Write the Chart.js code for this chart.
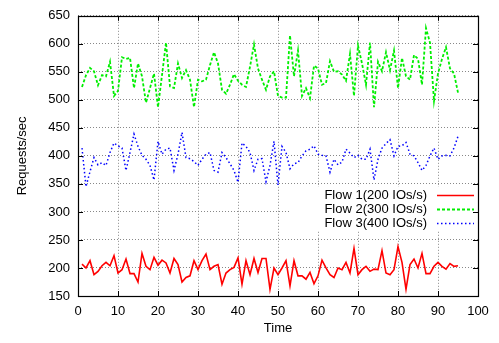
<!DOCTYPE html>
<html lang="en">
<head>
  <meta charset="UTF-8">
  <title>Requests/sec per flow</title>
  <style>
    body {
      margin: 0;
      background: #fff;
    }
    #wrap {
      width: 499px;
      height: 343px;
    }
  </style>
  <script src="https://cdn.jsdelivr.net/npm/chart.js"></script>
</head>
<body>
  <div id="wrap">
    <canvas id="flowChart" width="499" height="343"></canvas>
  </div>

  <script>
    // Datos
    const times = [1, 2, 3, 4, 5, 6, 7, 8, 9, 10, 11, 12, 13, 14, 15, 16, 17, 18, 19, 20,
      21, 22, 23, 24, 25, 26, 27, 28, 29, 30, 31, 32, 33, 34, 35, 36, 37, 38, 39, 40,
      41, 42, 43, 44, 45, 46, 47, 48, 49, 50, 51, 52, 53, 54, 55, 56, 57, 58, 59, 60,
      61, 62, 63, 64, 65, 66, 67, 68, 69, 70, 71, 72, 73, 74, 75, 76, 77, 78, 79, 80,
      81, 82, 83, 84, 85, 86, 87, 88, 89, 90, 91, 92, 93, 94, 95];

    const flow1 = [207, 200, 213, 188, 194, 204, 210, 204, 222, 191,
      197, 216, 190, 190, 175, 226, 203, 197, 219, 205,
      214, 209, 191, 217, 206, 175, 183, 186, 213, 197,
      213, 225, 197, 203, 206, 171, 191, 197, 201, 218,
      171, 213, 188, 217, 192, 217, 217, 162, 200, 188,
      200, 213, 168, 213, 186, 186, 180, 192, 172, 186,
      214, 200, 188, 183, 200, 197, 210, 191, 235, 188,
      197, 203, 194, 198, 197, 231, 191, 188, 197, 238,
      210, 162, 206, 216, 200, 226, 190, 190, 203, 210,
      203, 198, 208, 203, 204];

    const flow2 = [523, 544, 557, 551, 526, 544, 542, 568, 507, 516,
      576, 573, 575, 521, 565, 542, 495, 521, 547, 487,
      544, 602, 524, 521, 565, 539, 553, 536, 487, 536,
      533, 536, 562, 585, 565, 518, 511, 527, 546, 534,
      527, 523, 559, 599, 556, 536, 518, 542, 551, 507,
      504, 504, 615, 542, 588, 507, 521, 503, 561, 556,
      527, 530, 569, 550, 551, 545, 534, 582, 507, 597,
      565, 527, 602, 487, 568, 551, 585, 553, 588, 521,
      575, 542, 536, 580, 573, 527, 628, 602, 498, 547,
      573, 594, 556, 547, 513];

    const flow3 = [414, 345, 372, 397, 384, 388, 383, 406, 423, 418,
      414, 374, 406, 439, 417, 401, 394, 383, 357, 426,
      403, 412, 414, 374, 403, 442, 397, 395, 390, 383,
      394, 403, 406, 374, 371, 406, 397, 386, 374, 353,
      423, 417, 406, 374, 394, 395, 354, 383, 426, 348,
      417, 406, 377, 386, 388, 400, 409, 412, 418, 403,
      401, 400, 371, 394, 384, 389, 412, 405, 397, 401,
      394, 394, 412, 357, 394, 414, 422, 429, 400, 417,
      418, 424, 403, 400, 388, 374, 383, 400, 414, 394,
      400, 401, 400, 414, 435];

    const seriesLabels = ['Flow 1(200 IOs/s)', 'Flow 2(300 IOs/s)', 'Flow 3(400 IOs/s)'];

    const FONT = 'Liberation Sans, Arial, Helvetica, sans-serif';

    function toPoints(values) {
      return values.map((v, i) => ({ x: times[i], y: v }));
    }

    // Marcas hacia dentro en los cuatro lados y el marco (estilo gnuplot)
    const frameTicks = {
      id: 'frameTicks',
      beforeDatasetsDraw(chart) {
        const { ctx, chartArea: a } = chart;
        // caja blanca de la leyenda
        ctx.save();
        ctx.fillStyle = '#fff';
        ctx.fillRect(290, 187, a.right - 290, 44);
        ctx.restore();
      },
      afterDraw(chart) {
        const { ctx, chartArea: a, scales } = chart;
        const len = 5;
        ctx.save();
        ctx.strokeStyle = '#000';
        ctx.lineWidth = 1;
        ctx.beginPath();
        scales.y.ticks.forEach(t => {
          const py = Math.round(scales.y.getPixelForValue(t.value)) + 0.5;
          ctx.moveTo(a.left, py); ctx.lineTo(a.left + len, py);
          ctx.moveTo(a.right, py); ctx.lineTo(a.right - len, py);
        });
        scales.x.ticks.forEach(t => {
          const px = Math.round(scales.x.getPixelForValue(t.value)) + 0.5;
          ctx.moveTo(px, a.bottom); ctx.lineTo(px, a.bottom - len);
          ctx.moveTo(px, a.top); ctx.lineTo(px, a.top + len);
        });
        ctx.stroke();
        ctx.lineWidth = 1.2;
        ctx.strokeRect(Math.round(a.left) + 0.5, Math.round(a.top) + 0.5,
          Math.round(a.right - a.left), Math.round(a.bottom - a.top));

        // leyenda: texto a la izquierda, muestra de linea a la derecha
        ctx.font = '13px ' + FONT;
        ctx.textAlign = 'right';
        ctx.textBaseline = 'middle';
        chart.data.datasets.forEach((ds, i) => {
          const y = 195.5 + i * 14;
          ctx.fillStyle = '#000';
          ctx.fillText(ds.label, 427, y);
          ctx.beginPath();
          ctx.strokeStyle = ds.borderColor;
          ctx.lineWidth = ds.borderWidth;
          ctx.setLineDash(ds.borderDash || []);
          ctx.moveTo(437, y);
          ctx.lineTo(474, y);
          ctx.stroke();
        });
        ctx.restore();
      }
    };

    const gridStyle = {
      color: '#888',
      lineWidth: 1,
      drawTicks: false,
      tickBorderDash: [],
    };

    new Chart(document.getElementById('flowChart'), {
      type: 'line',
      data: {
        datasets: [
          {
            label: seriesLabels[0],
            data: toPoints(flow1),
            borderColor: '#ff0000',
            borderWidth: 1.6,
            borderDash: [],
            pointRadius: 0,
            tension: 0
          },
          {
            label: seriesLabels[1],
            data: toPoints(flow2),
            borderColor: '#00ee00',
            borderWidth: 1.8,
            borderDash: [3, 2],
            pointRadius: 0,
            tension: 0
          },
          {
            label: seriesLabels[2],
            data: toPoints(flow3),
            borderColor: '#0000ff',
            borderWidth: 1.5,
            borderDash: [1.5, 2.5],
            pointRadius: 0,
            tension: 0
          }
        ]
      },
      options: {
        responsive: false,
        animation: false,
        devicePixelRatio: 1,
        layout: { padding: { top: 6, right: 21, left: 0, bottom: 0 } },
        plugins: {
          legend: { display: false },
          tooltip: { enabled: false }
        },
        scales: {
          x: {
            type: 'linear',
            min: 0,
            max: 100,
            ticks: { stepSize: 10, color: '#000', padding: 8, font: { family: FONT, size: 13 } },
            grid: { ...gridStyle },
            border: { display: false, dash: [1, 2] },
            title: { display: true, text: 'Time', color: '#000', padding: { top: 0, bottom: 7 }, font: { family: FONT, size: 13 } },
            afterFit(s) { s.height = 47; }
          },
          y: {
            min: 150,
            max: 650,
            ticks: { stepSize: 50, color: '#000', padding: 8, font: { family: FONT, size: 13 } },
            grid: { ...gridStyle },
            border: { display: false, dash: [1, 2] },
            title: { display: true, text: 'Requests/sec', color: '#000', padding: { top: 15, bottom: 0 }, font: { family: FONT, size: 13 } },
            afterFit(s) { s.width = 78; }
          }
        }
      },
      plugins: [frameTicks]
    });
  </script>
</body>
</html>
